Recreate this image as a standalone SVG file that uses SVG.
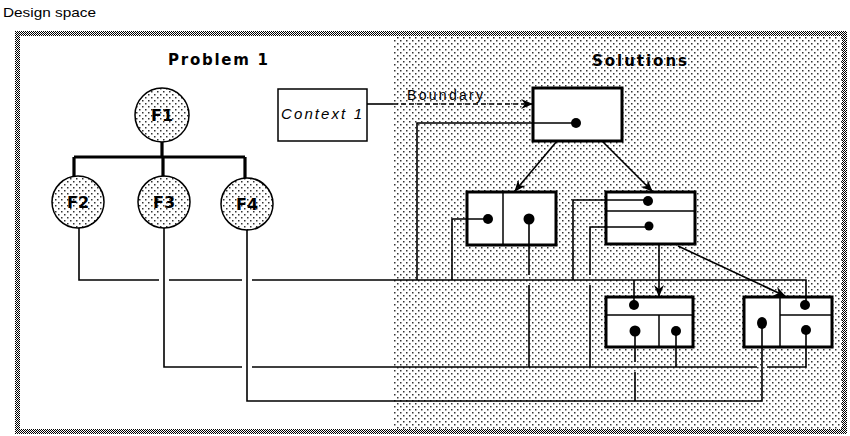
<svg xmlns="http://www.w3.org/2000/svg" width="850" height="436" viewBox="0 0 850 436">
<style>
.t{font-family:"Liberation Sans",Arial,sans-serif;fill:#000}
.h{font-family:"DejaVu Sans","Liberation Sans",sans-serif;font-weight:bold;fill:#000}
.ln{fill:none;stroke:#000;stroke-width:1.6}
.thick{fill:none;stroke:#000;stroke-width:3.2}
.box{fill:#fff;stroke:#000;stroke-width:3}
.div{stroke:#000;stroke-width:1.5;fill:none}
.dot{fill:#000}
.circ{fill:url(#dots);stroke:#000;stroke-width:1.5}
.arr{fill:none;stroke:#000;stroke-width:1.6;marker-end:url(#ah)}
</style>
<defs>
<pattern id="dots" width="6" height="6" patternUnits="userSpaceOnUse">
<rect width="6" height="6" fill="#fff"/>
<rect x="1" y="1" width="1.5" height="1.5" fill="#333"/>
<rect x="4" y="4" width="1.5" height="1.5" fill="#333"/>
</pattern>
<pattern id="checker" width="2" height="2" patternUnits="userSpaceOnUse">
<rect width="2" height="2" fill="#fff"/>
<rect x="0" y="0" width="1" height="1" fill="#000"/>
<rect x="1" y="1" width="1" height="1" fill="#000"/>
</pattern>
<marker id="ah" viewBox="0 0 12 10" refX="11" refY="5" markerWidth="12" markerHeight="10" markerUnits="userSpaceOnUse" orient="auto">
<path d="M0,0 L12,5 L0,10 L4,5 z" fill="#000"/>
</marker>
</defs>
<rect width="850" height="436" fill="#fff"/>
<text class="t" x="3" y="17" font-size="13" textLength="93" lengthAdjust="spacingAndGlyphs">Design space</text>
<g id="frame">
<rect x="15" y="31" width="832" height="403" fill="url(#checker)"/>
<rect x="20" y="36" width="822" height="393" fill="#fff"/>
<rect x="393" y="36" width="449" height="393" fill="url(#dots)"/>
</g>
<text class="h" x="168" y="65" font-size="15" textLength="100" lengthAdjust="spacing">Problem 1</text>
<text class="h" x="592" y="66" font-size="15" textLength="95" lengthAdjust="spacing">Solutions</text>
<g id="tree">
<path class="thick" d="M162,142 V157 M74,157 H245 M74,157 V176 M163,157 V176 M245,157 V178"/>
</g>
<g id="F1"><circle class="circ" cx="162" cy="115" r="27"/><text class="h" x="162" y="121" font-size="16" text-anchor="middle">F1</text></g>
<g id="F2"><circle class="circ" cx="78" cy="202" r="26"/><text class="h" x="78" y="208" font-size="16" text-anchor="middle">F2</text></g>
<g id="F3"><circle class="circ" cx="164" cy="202" r="26"/><text class="h" x="164" y="208" font-size="16" text-anchor="middle">F3</text></g>
<g id="F4"><circle class="circ" cx="247" cy="204" r="26"/><text class="h" x="247" y="210" font-size="16" text-anchor="middle">F4</text></g>
<g id="context1"><rect x="278" y="89" width="89" height="52" fill="#fff" stroke="#000" stroke-width="1.5"/><text class="t" x="281" y="119" font-size="15" font-style="italic" textLength="81" lengthAdjust="spacing">Context 1</text></g>
<g id="s-top"><rect class="box" x="533" y="88" width="89" height="53"/></g>
<g id="s-left"><rect class="box" x="467" y="192" width="89" height="53"/><line class="div" x1="503" y1="192" x2="503" y2="245"/></g>
<g id="s-mid"><rect class="box" x="606" y="192" width="89" height="52"/><line class="div" x1="606" y1="211" x2="695" y2="211"/></g>
<g id="s-bot1"><rect class="box" x="606" y="297" width="87" height="50"/><line class="div" x1="606" y1="315" x2="693" y2="315"/><line class="div" x1="659" y1="315" x2="659" y2="347"/></g>
<g id="s-bot2"><rect class="box" x="744" y="297" width="88" height="50"/><line class="div" x1="780" y1="297" x2="780" y2="347"/><line class="div" x1="780" y1="315" x2="832" y2="315"/></g>
<g id="connectors">
<path class="ln" d="M79,228 V280 H159 M169,280 H242 M252,280 H806 V305"/>
<path class="ln" d="M164,228 V367 H242 M252,367 H757 M767,367 H806 V330"/>
<path class="ln" d="M247,230 V401 H762 V323"/>
<path class="ln" d="M576,123 H417 V280"/>
<path class="ln" d="M488,219 H452 V280"/>
<path class="ln" d="M529,219 V275 M529,285 V367"/>
<path class="ln" d="M648,200 H573 V280"/>
<path class="ln" d="M649,227 H590 V275 M590,285 V367"/>
<path class="ln" d="M634,280 V305"/>
<path class="ln" d="M635,331 V362 M635,372 V401"/>
<path class="ln" d="M676,331 V367"/>
<path class="ln" d="M367,104 H393"/>
<path class="arr" d="M393,104 H532" stroke-dasharray="5,3"/>
<path class="arr" d="M557,141 L515,191"/>
<path class="arr" d="M602,141 L652,191"/>
<path class="arr" d="M659,244 V296"/>
<path class="arr" d="M678,246 L785,296"/>
</g>
<text class="t" x="407" y="100" font-size="14" textLength="76" lengthAdjust="spacing">Boundary</text>
<g id="dots-g">
<circle class="dot" cx="576" cy="123" r="5"/>
<circle class="dot" cx="488" cy="219" r="5"/>
<circle class="dot" cx="529" cy="219" r="5.5"/>
<circle class="dot" cx="648" cy="201" r="5"/>
<circle class="dot" cx="649" cy="226" r="4.5"/>
<circle class="dot" cx="634" cy="305" r="5"/>
<circle class="dot" cx="635" cy="331" r="5.5"/>
<circle class="dot" cx="676" cy="331" r="5"/>
<ellipse class="dot" cx="762" cy="323" rx="5" ry="6"/>
<circle class="dot" cx="805" cy="305" r="5"/>
<circle class="dot" cx="806" cy="330" r="5"/>
</g>
</svg>
